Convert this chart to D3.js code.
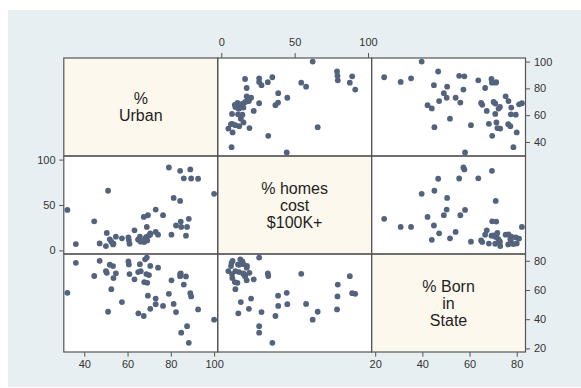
<!DOCTYPE html>
<html><head><meta charset="utf-8">
<script src="https://cdn.jsdelivr.net/npm/d3@7"></script>
<style>html,body{margin:0;padding:0;background:#fff;} svg{display:block;}</style>
</head><body><svg id="chart" width="581" height="388"></svg>
<script>
const states = ["VT","WV","ME","MS","SD","NC","NH","KY","MT","ND","AR","SC","ID","AL","IA","TN",
  "GA","IN","WY","WI","NE","AK","OK","LA","MO","PA","KS","VA","MN","OR","MI","NM","DE","OH","WA",
  "CT","TX","MD","CO","NY","MA","IL","FL","RI","UT","AZ","NV","HI","NJ","CA","DC"];
const urban = [32.2,36.1,44.6,47.1,50.0,50.4,51.0,51.8,52.5,53.3,53.5,54.6,57.4,60.4,60.6,60.9,
  63.2,64.9,65.0,65.7,66.1,67.5,67.7,68.1,68.7,68.9,69.1,69.4,69.9,70.5,70.5,73.0,73.0,74.1,76.4,
  79.1,80.3,81.3,82.4,84.3,84.3,84.6,84.8,86.0,87.0,87.5,88.3,89.0,89.4,92.6,100];
const homes = [44.6,7.0,32.0,7.7,4.8,19.2,65.7,12.2,9.6,6.6,7.5,15.1,13.3,14.4,11.4,7.3,
  22.1,12.2,11.6,15.1,9.6,36.9,9.2,13.0,15.0,25.8,11.0,38.7,16.4,18.8,17.5,20.3,45.0,17.3,38.8,
  91.3,17.3,57.8,27.4,54.5,87.6,31.7,25.8,79.4,16.2,25.8,34.8,89.2,79.2,78.9,62.3];
const born = [58.1,78.6,69.6,80.0,73.0,71.8,45.1,77.3,60.6,76.4,68.2,71.4,51.7,79.6,77.5,70.9,
  67.3,72.3,44.0,77.7,72.9,42.2,65.4,81.0,70.9,82.2,64.9,56.1,70.2,47.1,76.5,54.1,50.3,75.3,49.1,
  57.4,66.6,50.5,44.9,71.1,69.5,71.3,30.8,63.7,69.3,35.2,23.8,57.8,55.6,46.7,39.7];
const urbanTicks = [40,60,80,100];
const homesTicks = [0,50,100];
const bornTicks = [20,40,60,80];
const titles = [["%","Urban"],["% homes","cost","$100K+"],["% Born","in","State"]];

const vars = [
  {values: urban, ticks: urbanTicks, title: titles[0]},
  {values: homes, ticks: homesTicks, title: titles[1]},
  {values: born,  ticks: bornTicks,  title: titles[2]}
];

const FONT = "'Liberation Sans', Arial, Helvetica, sans-serif";
const svg = d3.select("#chart");
svg.append("rect").attr("x",8).attr("y",10).attr("width",573).attr("height",377).attr("fill","#e8eff2");

const gLeft = 63.8, gTop = 58, cw = 153.9, ch = 98, pad = 3.6, n = 3;

function xScale(i){
  const v = vars[i];
  return d3.scaleLinear().domain(d3.extent(v.values.concat(v.ticks)))
    .range([gLeft + i*cw + pad, gLeft + (i+1)*cw - pad]);
}
function yScale(j){
  const v = vars[j];
  return d3.scaleLinear().domain(d3.extent(v.values.concat(v.ticks)))
    .range([gTop + (j+1)*ch - pad, gTop + j*ch + pad]);
}

for (let j = 0; j < n; j++) for (let i = 0; i < n; i++) {
  svg.append("rect").attr("x", gLeft + i*cw).attr("y", gTop + j*ch)
    .attr("width", cw).attr("height", ch)
    .attr("fill", i === j ? "#fdf8ed" : "#ffffff");
}

for (let j = 0; j < n; j++) for (let i = 0; i < n; i++) {
  if (i === j) continue;
  const xs = xScale(i), ys = yScale(j);
  svg.append("g").selectAll("circle").data(d3.range(states.length)).join("circle")
    .attr("cx", k => xs(vars[i].values[k]))
    .attr("cy", k => ys(vars[j].values[k]))
    .attr("r", 2.9)
    .attr("fill", "#54637d");
}

for (let j = 0; j < n; j++) for (let i = 0; i < n; i++) {
  svg.append("rect").attr("x", gLeft + i*cw).attr("y", gTop + j*ch)
    .attr("width", cw).attr("height", ch)
    .attr("fill", "none").attr("stroke", "#555555").attr("stroke-width", 1.2);
}

for (let i = 0; i < n; i++) {
  const lines = vars[i].title, lh = 17;
  const cx = gLeft + i*cw + cw/2, cy = gTop + i*ch + ch/2;
  const t = svg.append("text").attr("text-anchor","middle")
    .attr("font-family", FONT).attr("font-size", 16).attr("fill", "#1e1e1e");
  lines.forEach((s, k) => {
    t.append("tspan").attr("x", cx)
      .attr("y", cy - (lines.length-1)*lh/2 + k*lh + 5.7).text(s);
  });
}

function styleAxis(g){
  g.select(".domain").remove();
  g.selectAll(".tick line").attr("stroke", "#555555").attr("stroke-width", 1);
  g.selectAll(".tick text").attr("fill", "#333333").attr("font-family", FONT).attr("font-size", 11);
}

for (let i = 0; i < n; i++) {
  const xs = xScale(i);
  if (i % 2 === 0) {
    svg.append("g").attr("transform", `translate(0,${gTop + n*ch})`)
      .call(d3.axisBottom(xs).tickValues(vars[i].ticks).tickSize(4.7).tickPadding(3.2)).call(styleAxis);
  } else {
    svg.append("g").attr("transform", `translate(0,${gTop})`)
      .call(d3.axisTop(xs).tickValues(vars[i].ticks).tickSize(5).tickPadding(7)).call(styleAxis);
  }
}
for (let j = 0; j < n; j++) {
  const ys = yScale(j);
  if (j % 2 === 0) {
    svg.append("g").attr("transform", `translate(${gLeft + n*cw},0)`)
      .call(d3.axisRight(ys).tickValues(vars[j].ticks).tickSize(4.5).tickPadding(4)).call(styleAxis);
  } else {
    svg.append("g").attr("transform", `translate(${gLeft},0)`)
      .call(d3.axisLeft(ys).tickValues(vars[j].ticks).tickSize(4.6).tickPadding(3.7)).call(styleAxis);
  }
}
</script></body></html>
